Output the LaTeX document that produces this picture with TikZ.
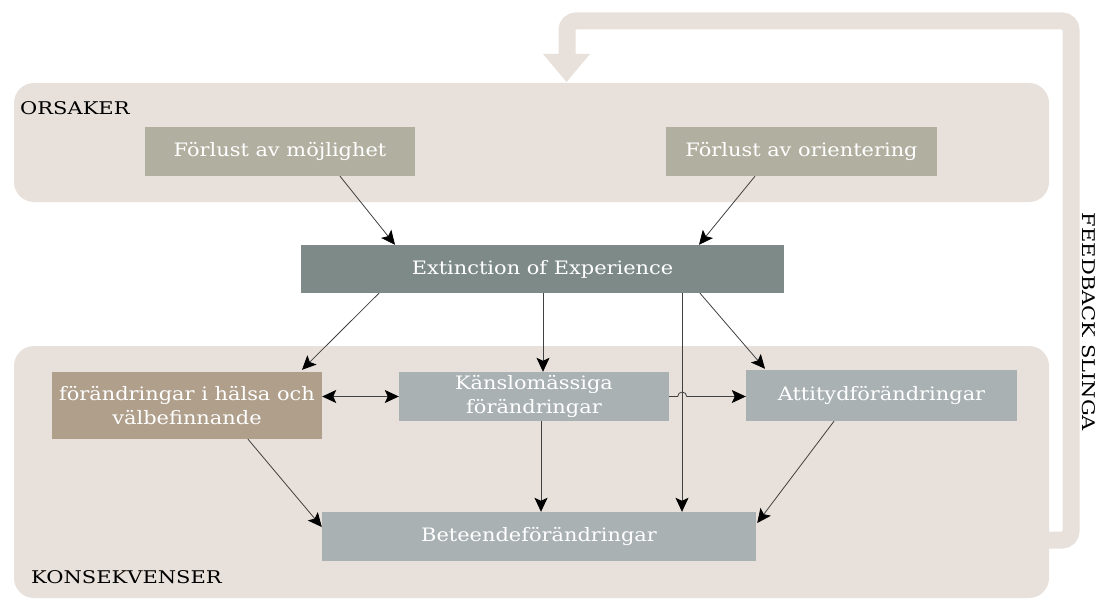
\documentclass[tikz,border=0pt]{standalone}
\usepackage{fontspec}
\setmainfont{DejaVu Serif}[FakeStretch=1.13]
\newfontfamily\grouplabelfont{DejaVu Serif}[FakeStretch=1.2]
\usetikzlibrary{arrows.meta}
\definecolor{panel}{HTML}{E8E0DA}
\definecolor{cause}{HTML}{B0AFA0}
\definecolor{core}{HTML}{7D8A88}
\definecolor{health}{HTML}{AF9F8B}
\definecolor{effect}{HTML}{A9B1B2}
\definecolor{wire}{HTML}{404040}
\begin{document}
\begin{tikzpicture}[x=1pt,y=-1pt,
  box/.style={rectangle, draw=none, inner sep=0pt, text=white, align=center,
    font=\fontsize{18.5}{24}\selectfont},
  conn/.style={draw=wire, line width=0.8pt, -{Stealth[length=14pt,width=13pt,inset=3pt,color=black]}},
  bothconn/.style={draw=wire, line width=0.8pt,
    {Stealth[length=14pt,width=13pt,inset=3pt,color=black]}-{Stealth[length=14pt,width=13pt,inset=3pt,color=black]}},
  grouplbl/.style={font=\grouplabelfont\fontsize{17.5}{20}\selectfont, text=black, inner sep=0pt}]
\useasboundingbox (0,0) rectangle (1097,599);

% feedback band running round the right side
\draw[panel, line width=17pt, rounded corners=9pt]
  (1040,540) -- (1071,540) -- (1071,21) -- (567,21) -- (567,54);
\fill[panel] (543,54) -- (590,54) -- (566.5,82) -- cycle;

% group panels
\fill[panel, rounded corners=20pt] (14,83) rectangle (1049,202);
\fill[panel, rounded corners=20pt] (14,346) rectangle (1049,598);

\node[grouplbl, anchor=west] (orsaker) at (20,108) {ORSAKER};
\node[grouplbl, anchor=west] (konsek) at (31,577) {KONSEKVENSER};
\node[grouplbl, rotate=-90] (feedback) at (1089,322) {FEEDBACK SLINGA};

% boxes
\node[box, fill=cause, minimum width=270pt, minimum height=49pt] (moj) at (280,151.5) {Förlust av möjlighet};
\node[box, fill=cause, minimum width=271pt, minimum height=49pt] (ori) at (801.5,151.5) {Förlust av orientering};
\node[box, fill=core, minimum width=483pt, minimum height=48pt] (ext) at (542.5,269) {Extinction of Experience};
\node[box, fill=health, minimum width=270pt, minimum height=67pt] (hal) at (187,405.5) {förändringar i hälsa och\\välbefinnande};
\node[box, fill=effect, minimum width=270pt, minimum height=49pt] (kans) at (534,396.5) {Känslomässiga\\förändringar};
\node[box, fill=effect, minimum width=271pt, minimum height=51pt] (att) at (881.5,395.5) {Attitydförändringar};
\node[box, fill=effect, minimum width=434pt, minimum height=49pt] (bet) at (539,536.5) {Beteendeförändringar};

% connectors
\draw[conn] ([xshift=60pt]moj.south) -- ([xshift=-147.5pt]ext.north);
\draw[conn] ([xshift=-46.5pt]ori.south) -- ([xshift=156.5pt]ext.north);
\draw[conn] ([xshift=-163.5pt]ext.south) -- ([xshift=115pt,yshift=2pt]hal.north);
\draw[conn] ([xshift=0.5pt]ext.south) -- ([xshift=9pt]kans.north);
\draw[conn] ([xshift=157.5pt]ext.south) -- ([xshift=-116.5pt,yshift=1pt]att.north);
\draw[conn] ([xshift=139.5pt]ext.south) -- ([xshift=143pt]bet.north);
\draw[conn] (kans.east) -- ++(8.5,0) arc[start angle=180, end angle=360, radius=4.5] -- (att.west |- kans.east);
\draw[bothconn] (kans.west -| hal.east) -- (kans.west);
\draw[conn] ([xshift=61pt]hal.south) -- ([yshift=9.5pt]bet.west);
\draw[conn] ([xshift=7pt]kans.south) -- ([xshift=2pt]bet.north);
\draw[conn] ([xshift=-47.5pt]att.south) -- ([xshift=1pt,yshift=13.5pt]bet.east);
\end{tikzpicture}
\end{document}
